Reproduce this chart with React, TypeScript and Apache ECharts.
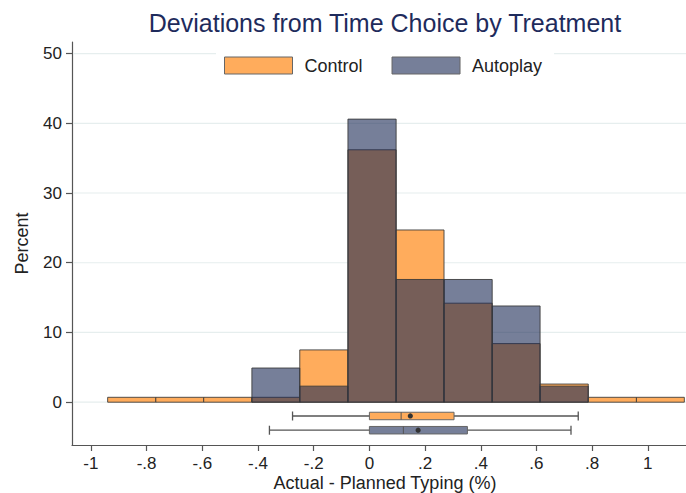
import React, { useEffect, useRef } from "react";
import * as echarts from "echarts";

// ---- data ----
const binEdges = [-0.94, -0.767, -0.595, -0.422, -0.25, -0.077, 0.096, 0.268, 0.441, 0.613, 0.786, 0.959, 1.131];
const controlPct = [0.7, 0.7, 0.7, 0.7, 7.5, 36.2, 24.7, 14.2, 8.4, 2.6, 0.7, 0.7];
const autoplayPct = [0, 0, 0, 4.9, 2.3, 40.6, 17.6, 17.6, 13.8, 2.3, 0, 0];
// [min whisker, q1, median, q3, max whisker, mean]
const controlBox = [-0.276, 0, 0.114, 0.304, 0.75, 0.147];
const autoplayBox = [-0.359, 0, 0.122, 0.352, 0.724, 0.175];
const xTickValues = [-1, -0.8, -0.6, -0.4, -0.2, 0, 0.2, 0.4, 0.6, 0.8, 1];
const yTickValues = [0, 10, 20, 30, 40, 50];
const seriesNames = ["Control", "Autoplay"];

// ---- layout / style ----
const boxRowY = [-1.98, -4.02];
const FONT = "'Liberation Sans', Arial, Helvetica, sans-serif";
const ORANGE = "#FFAC5C";
const NAVY_T = "rgba(27,42,85,0.6)";
const NAVY_LEGEND = "#767F99";
const EDGE = "rgba(55,55,55,0.85)";
const AXIS = "#555";

function fmtTick(v: number) {
  const s = String(+v.toFixed(1));
  return s.replace("0.", ".");
}

function barData(pct: number[]) {
  const out: number[][] = [];
  pct.forEach((h, i) => {
    if (h > 0) out.push([binEdges[i], binEdges[i + 1], h]);
  });
  return out;
}

function barRender(fill: string) {
  return (params: any, api: any) => {
    const x0 = api.value(0);
    const x1 = api.value(1);
    const h = api.value(2);
    const p0 = api.coord([x0, 0]);
    const p1 = api.coord([x1, h]);
    return {
      type: "rect",
      shape: { x: p0[0], y: p1[1], width: p1[0] - p0[0], height: p0[1] - p1[1] },
      style: { fill, stroke: EDGE, lineWidth: 1 },
    };
  };
}

export default function App() {
  const ref = useRef<HTMLDivElement>(null);
  useEffect(() => {
    if (!ref.current) return;
    const chart = echarts.init(ref.current, undefined, { renderer: "svg" });
    const boxFills = [ORANGE, NAVY_LEGEND];
    const boxData = [controlBox, autoplayBox].map((b, i) => [...b, boxRowY[i], i]);
    chart.setOption({
      animation: false,
      backgroundColor: "#fff",
      grid: { left: 72, right: 0, top: 42, bottom: 48, containLabel: false, outerBoundsMode: "none" },
      graphic: [
        {
          type: "text",
          x: 385,
          y: 23,
          style: {
            text: "Deviations from Time Choice by Treatment",
            fontSize: 25,
            fontFamily: FONT,
            fill: "#1e2b5c",
            align: "center",
            verticalAlign: "middle",
          },
        },
      ],
      legend: {
        left: 216,
        top: 48,
        padding: [8.5, 12, 8, 8],
        backgroundColor: "#fff",
        itemWidth: 68,
        itemHeight: 17,
        itemGap: 29,
        selectedMode: false,
        textStyle: { fontSize: 18, fontFamily: FONT, color: "#222", padding: [0, 0, 0, 7] },
        data: [
          { name: seriesNames[0], icon: "rect", itemStyle: { color: ORANGE, borderColor: "#666", borderWidth: 1 } },
          { name: seriesNames[1], icon: "rect", itemStyle: { color: NAVY_LEGEND, borderColor: "#666", borderWidth: 1 } },
        ],
      },
      xAxis: {
        type: "value",
        min: -1.068,
        max: 1.137,
        name: "Actual - Planned Typing (%)",
        nameLocation: "middle",
        nameGap: 29,
        nameMoveOverlap: false,
        nameTextStyle: { fontSize: 18, fontFamily: FONT, color: "#222", padding: [0, 0, 0, 12] },
        axisLine: { show: true, onZero: false, lineStyle: { color: AXIS, width: 1.2 } },
        axisTick: { show: true, customValues: xTickValues, length: 6, lineStyle: { color: AXIS, width: 1.2 } },
        axisLabel: {
          customValues: xTickValues,
          formatter: (v: number) => fmtTick(v),
          fontSize: 17,
          fontFamily: FONT,
          color: "#222",
          margin: 10,
        },
        splitLine: { show: false },
      },
      yAxis: {
        type: "value",
        min: -6.14,
        max: 51.66,
        name: "Percent",
        nameLocation: "middle",
        nameGap: 41,
        nameMoveOverlap: false,
        nameTextStyle: { fontSize: 18, fontFamily: FONT, color: "#222" },
        axisLine: { show: true, onZero: false, lineStyle: { color: AXIS, width: 1.2 } },
        axisTick: { show: true, customValues: yTickValues, length: 6, lineStyle: { color: AXIS, width: 1.2 } },
        axisLabel: {
          customValues: yTickValues,
          fontSize: 17,
          fontFamily: FONT,
          color: "#222",
          margin: 10,
        },
        splitLine: { show: false },
      },
      series: [
        {
          type: "custom",
          name: "gridlines",
          silent: true,
          z: 1,
          data: yTickValues.map((v) => [0, v]),
          encode: { x: 0, y: 1 },
          renderItem: (params: any, api: any) => {
            const y = api.coord([0, api.value(1)])[1];
            const cs = params.coordSys;
            return {
              type: "line",
              shape: { x1: cs.x + 1, y1: y, x2: cs.x + cs.width, y2: y },
              style: { stroke: "#e6eeee", lineWidth: 1.2 },
            };
          },
        },
        {
          type: "custom",
          name: seriesNames[0],
          z: 2,
          data: barData(controlPct),
          encode: { x: [0, 1], y: 2 },
          renderItem: barRender(ORANGE),
        },
        {
          type: "custom",
          name: seriesNames[1],
          z: 3,
          data: barData(autoplayPct),
          encode: { x: [0, 1], y: 2 },
          renderItem: barRender(NAVY_T),
        },
        {
          type: "custom",
          name: "boxes",
          z: 4,
          data: boxData,
          encode: { x: [0, 4], y: 6 },
          renderItem: (params: any, api: any) => {
            const yv = api.value(6);
            const idx = api.value(7);
            const pMin = api.coord([api.value(0), yv]);
            const pQ1 = api.coord([api.value(1), yv]);
            const pMed = api.coord([api.value(2), yv]);
            const pQ3 = api.coord([api.value(3), yv]);
            const pMax = api.coord([api.value(4), yv]);
            const pMean = api.coord([api.value(5), yv]);
            const cy = pMin[1];
            const bh = 7.5;
            const ch = 9;
            const lineStyle = { stroke: "#555", lineWidth: 1.3 };
            return {
              type: "group",
              children: [
                { type: "line", shape: { x1: pMin[0], y1: cy, x2: pMax[0], y2: cy }, style: lineStyle },
                { type: "line", shape: { x1: pMin[0], y1: cy - ch / 2, x2: pMin[0], y2: cy + ch / 2 }, style: lineStyle },
                { type: "line", shape: { x1: pMax[0], y1: cy - ch / 2, x2: pMax[0], y2: cy + ch / 2 }, style: lineStyle },
                {
                  type: "rect",
                  shape: { x: pQ1[0], y: cy - bh / 2, width: pQ3[0] - pQ1[0], height: bh },
                  style: { fill: boxFills[idx], stroke: "#666", lineWidth: 1 },
                },
                { type: "line", shape: { x1: pMed[0], y1: cy - bh / 2, x2: pMed[0], y2: cy + bh / 2 }, style: { stroke: "#555", lineWidth: 1 } },
                { type: "circle", shape: { cx: pMean[0], cy, r: 2.6 }, style: { fill: "#333" } },
              ],
            };
          },
        },
      ],
    });
    return () => chart.dispose();
  }, []);
  return (
    <div
      ref={ref}
      style={{ position: "fixed", left: 0, top: 0, width: 686, height: 493, background: "#fff" }}
    />
  );
}
